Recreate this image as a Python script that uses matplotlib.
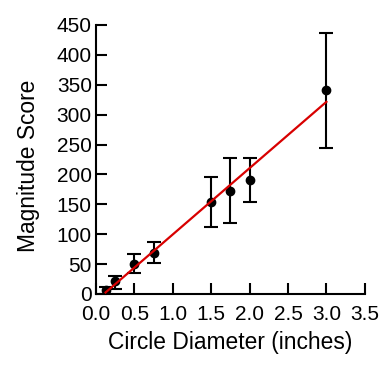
import numpy as np
import matplotlib
matplotlib.use("Agg")
import matplotlib.pyplot as plt

plt.rcParams["font.family"] = ["Liberation Sans", "DejaVu Sans"]

# circle diameters (inches) and mean magnitude estimates
diameter = [0.125, 0.25, 0.5, 0.75, 1.5, 1.75, 2.0, 3.0]
magnitude = [7, 21, 51, 69, 154, 172, 190, 341]
err_low = [7, 12, 16, 17, 42, 54, 36, 96]
err_high = [5, 9, 16, 18, 42, 56, 38, 95]

slope, intercept = np.polyfit(diameter, magnitude, 1)
fit_x = np.array([min(diameter), max(diameter)])
fit_y = slope * fit_x + intercept

fig = plt.figure(figsize=(3.84, 3.82), dpi=100)
ax = fig.add_axes([0.25, 0.2304, 0.70, 0.7042])

ax.errorbar(diameter, magnitude, yerr=[err_low, err_high], fmt="o",
            color="black", markersize=6, capsize=5, elinewidth=1.5,
            capthick=1.5, zorder=2)
ax.plot(fit_x, fit_y, color="#d80000", linewidth=1.6, zorder=3)

ax.set_xlim(0, 3.5)
ax.set_ylim(0, 450)
ax.set_xticks(np.arange(0, 3.51, 0.5))
ax.set_yticks(np.arange(0, 451, 50))
ax.set_xticklabels([f"{v:.1f}" for v in np.arange(0, 3.51, 0.5)])

for side in ["top", "right"]:
    ax.spines[side].set_visible(False)
for side in ["left", "bottom"]:
    ax.spines[side].set_linewidth(1.5)
ax.tick_params(direction="in", length=8, width=1.5, labelsize=15)
ax.tick_params(axis="x", pad=8)
ax.tick_params(axis="y", pad=3)

ax.set_xlabel("Circle Diameter (inches)", fontsize=16.4, labelpad=5)
ax.set_ylabel("Magnitude Score", fontsize=16.4, labelpad=12)
ax.yaxis.label.set_y(0.476)

plt.savefig("out.png", dpi=100)
